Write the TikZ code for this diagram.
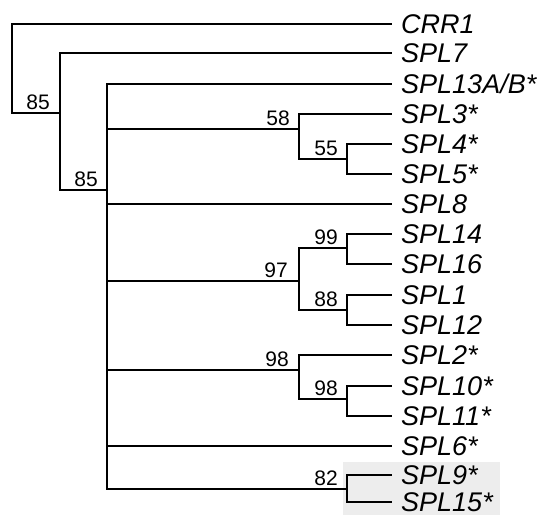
\documentclass[tikz,border=0pt]{standalone}
\usepackage{fontspec}
\setmainfont{Liberation Sans}
\usetikzlibrary{positioning}

\begin{document}
\begin{tikzpicture}[
    x=1pt, y=-1pt,
    branch/.style={line width=2.6pt, line cap=rect, line join=miter},
    leaf/.style={anchor=west, inner xsep=10pt, inner ysep=0pt, text height=19.4pt, text depth=0pt, font=\fontsize{27}{27}\selectfont\itshape},
    boot/.style={inner sep=0pt, font=\fontsize{21}{21}\selectfont}
]
    \useasboundingbox (0,0) rectangle (539,515);

    % shaded clade
    \fill[gray!14] (343,462) rectangle (500,515);

    % internal nodes
    \coordinate (root) at (12,113);
    \coordinate (n85a) at (60,113);
    \coordinate (n85b) at (107,190);
    \coordinate (n58) at (299,129);
    \coordinate (n55) at (347,159);
    \coordinate (n97) at (299,281);
    \coordinate (n99) at (347,248);
    \coordinate (n88) at (347,310);
    \coordinate (n98a) at (299,370);
    \coordinate (n98b) at (347,399);
    \coordinate (n82) at (347,489);

    % leaves
    \node[leaf] (crr1) at (391,24) {CRR1};
    \node[leaf] (spl7) at (391,53) {SPL7};
    \node[leaf] (spl13) at (391,84) {SPL13A/B*};
    \node[leaf] (spl3) at (391,114) {SPL3*};
    \node[leaf] (spl4) at (391,144) {SPL4*};
    \node[leaf] (spl5) at (391,174) {SPL5*};
    \node[leaf] (spl8) at (391,204) {SPL8};
    \node[leaf] (spl14) at (391,234) {SPL14};
    \node[leaf] (spl16) at (391,264) {SPL16};
    \node[leaf] (spl1) at (391,295) {SPL1};
    \node[leaf] (spl12) at (391,325) {SPL12};
    \node[leaf] (spl2) at (391,355) {SPL2*};
    \node[leaf] (spl10) at (391,386) {SPL10*};
    \node[leaf] (spl11) at (391,416) {SPL11*};
    \node[leaf] (spl6) at (391,446) {SPL6*};
    \node[leaf] (spl9) at (391,475) {SPL9*};
    \node[leaf] (spl15) at (391,502) {SPL15*};

    % bootstrap values
    \node[boot, above left=3pt and 10pt of n85a] (b85a) {85};
    \node[boot, above left=3pt and 9pt of n85b] (b85b) {85};
    \node[boot, above left=3pt and 9pt of n58] (b58) {58};
    \node[boot, above left=3pt and 9pt of n55] (b55) {55};
    \node[boot, above left=3pt and 11pt of n97] (b97) {97};
    \node[boot, above left=3pt and 9pt of n99] (b99) {99};
    \node[boot, above left=3pt and 9pt of n88] (b88) {88};
    \node[boot, above left=3pt and 10pt of n98a] (b98a) {98};
    \node[boot, above left=3pt and 9pt of n98b] (b98b) {98};
    \node[boot, above left=3pt and 9pt of n82] (b82) {82};

    \draw[branch] (root) |- (crr1.west);
    \draw[branch] (root) -- (n85a);
    \draw[branch] (n85a) |- (spl7.west);
    \draw[branch] (n85a) |- (n85b);
    \draw[branch] (n85b) |- (spl13.west);
    \draw[branch] (n85b) |- (n58);
    \draw[branch] (n85b) |- (spl8.west);
    \draw[branch] (n85b) |- (n97);
    \draw[branch] (n85b) |- (n98a);
    \draw[branch] (n85b) |- (spl6.west);
    \draw[branch] (n85b) |- (n82);
    \draw[branch] (n58) |- (spl3.west);
    \draw[branch] (n58) |- (n55);
    \draw[branch] (n55) |- (spl4.west);
    \draw[branch] (n55) |- (spl5.west);
    \draw[branch] (n97) |- (n99);
    \draw[branch] (n97) |- (n88);
    \draw[branch] (n99) |- (spl14.west);
    \draw[branch] (n99) |- (spl16.west);
    \draw[branch] (n88) |- (spl1.west);
    \draw[branch] (n88) |- (spl12.west);
    \draw[branch] (n98a) |- (spl2.west);
    \draw[branch] (n98a) |- (n98b);
    \draw[branch] (n98b) |- (spl10.west);
    \draw[branch] (n98b) |- (spl11.west);
    \draw[branch] (n82) |- (spl9.west);
    \draw[branch] (n82) |- (spl15.west);
\end{tikzpicture}
\end{document}
